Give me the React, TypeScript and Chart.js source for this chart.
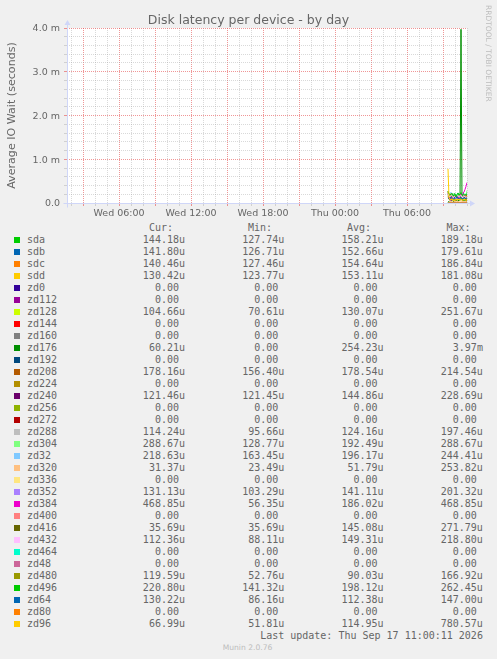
import React, { useEffect, useRef } from "react";
import { Chart, registerables } from "chart.js";

Chart.register(...registerables);

// ---- Data (values in microseconds) ----
const sampleTimes = [
  "09:25", "09:30", "09:35", "09:40", "09:45", "09:50", "09:55", "10:00", "10:05", "10:10",
  "10:15", "10:20", "10:25", "10:30", "10:35", "10:40", "10:45", "10:50", "10:55", "11:00",
];

const sda = [165, 152, 171, 189.18, 160, 147, 155, 168, 139, 150, 176, 162, 127.74, 158, 181, 149, 166, 153, 171, 144.18];
const sdb = [158, 145, 163, 179.61, 150, 139, 148, 161, 134, 146, 170, 155, 126.71, 152, 172, 143, 159, 147, 164, 141.8];
const sdc = [160, 148, 167, 186.84, 152, 141, 150, 163, 136, 147, 172, 158, 127.46, 153, 176, 145, 162, 149, 166, 140.46];
const sdd = [162, 150, 165, 181.08, 149, 140, 152, 160, 137, 145, 170, 157, 123.77, 151, 174, 146, 160, 148, 163, 130.42];
const zd0 = [0, 0, 0, 0, 0, 0, 0, 0, 0, 0, 0, 0, 0, 0, 0, 0, 0, 0, 0, 0];
const zd112 = [0, 0, 0, 0, 0, 0, 0, 0, 0, 0, 0, 0, 0, 0, 0, 0, 0, 0, 0, 0];
const zd128 = [251.67, 140, 98, 122, 155, 110, 70.61, 135, 162, 118, 101, 144, 127, 90, 138, 171, 115, 123, 120, 104.66];
const zd144 = [0, 0, 0, 0, 0, 0, 0, 0, 0, 0, 0, 0, 0, 0, 0, 0, 0, 0, 0, 0];
const zd160 = [0, 0, 0, 0, 0, 0, 0, 0, 0, 0, 0, 0, 0, 0, 0, 0, 0, 0, 0, 0];
const zd176 = [0, 45, 62, 38, 71, 55, 0, 48, 66, 52, 40, 73, 58, 3970, 61, 44, 57, 69, 50, 60.21];
const zd192 = [0, 0, 0, 0, 0, 0, 0, 0, 0, 0, 0, 0, 0, 0, 0, 0, 0, 0, 0, 0];
const zd208 = [185, 170, 192, 214.54, 175, 163, 180, 188, 156.4, 172, 199, 181, 160, 177, 205, 168, 183, 171, 166, 178.16];
const zd224 = [0, 0, 0, 0, 0, 0, 0, 0, 0, 0, 0, 0, 0, 0, 0, 0, 0, 0, 0, 0];
const zd240 = [228.69, 150, 135, 142, 160, 128, 139, 147, 131, 155, 138, 144, 126, 149, 133, 141, 152, 130, 121.45, 121.46];
const zd256 = [0, 0, 0, 0, 0, 0, 0, 0, 0, 0, 0, 0, 0, 0, 0, 0, 0, 0, 0, 0];
const zd272 = [0, 0, 0, 0, 0, 0, 0, 0, 0, 0, 0, 0, 0, 0, 0, 0, 0, 0, 0, 0];
const zd288 = [197.46, 130, 110, 125, 118, 140, 95.66, 122, 133, 108, 126, 119, 137, 104, 128, 115, 121, 131, 112, 114.24];
const zd304 = [180, 165, 210, 195, 128.77, 175, 220, 190, 168, 205, 182, 160, 215, 188, 172, 198, 176, 211, 185, 288.67];
const zd32 = [205, 188, 221, 244.41, 190, 175, 199, 212, 163.45, 184, 230, 196, 170, 193, 226, 181, 203, 187, 179, 218.63];
const zd320 = [253.82, 80, 35, 42, 28, 65, 38, 23.49, 47, 33, 40, 29, 52, 36, 44, 26, 39, 31, 34, 31.37];
const zd336 = [0, 0, 0, 0, 0, 0, 0, 0, 0, 0, 0, 0, 0, 0, 0, 0, 0, 0, 0, 0];
const zd352 = [201.32, 150, 125, 138, 160, 118, 132, 145, 103.29, 140, 155, 128, 136, 149, 121, 143, 152, 126, 134, 131.13];
const zd384 = [120, 95, 140, 56.35, 110, 150, 130, 88, 160, 125, 105, 145, 170, 210, 190, 230, 250, 310, 380, 468.85];
const zd400 = [0, 0, 0, 0, 0, 0, 0, 0, 0, 0, 0, 0, 0, 0, 0, 0, 0, 0, 0, 0];
const zd416 = [271.79, 180, 150, 165, 130, 142, 175, 120, 155, 138, 160, 128, 148, 170, 118, 140, 152, 110, 90, 35.69];
const zd432 = [218.8, 160, 140, 175, 150, 130, 165, 145, 88.11, 155, 170, 135, 148, 180, 125, 158, 162, 140, 128, 112.36];
const zd464 = [0, 0, 0, 0, 0, 0, 0, 0, 0, 0, 0, 0, 0, 0, 0, 0, 0, 0, 0, 0];
const zd48 = [0, 0, 0, 0, 0, 0, 0, 0, 0, 0, 0, 0, 0, 0, 0, 0, 0, 0, 0, 0];
const zd480 = [166.92, 95, 70, 88, 105, 62, 80, 92, 52.76, 85, 98, 74, 90, 110, 66, 84, 93, 78, 72, 119.59];
const zd496 = [262.45, 210, 185, 200, 225, 170, 195, 215, 141.32, 190, 230, 180, 205, 240, 175, 198, 212, 188, 183, 220.8];
const zd64 = [120, 105, 98, 135, 110, 86.16, 115, 125, 100, 147.0, 108, 95, 118, 130, 92, 112, 104, 122, 99, 130.22];
const zd80 = [0, 0, 0, 0, 0, 0, 0, 0, 0, 0, 0, 0, 0, 0, 0, 0, 0, 0, 0, 0];
const zd96 = [780.57, 120, 85, 70, 95, 62, 78, 51.81, 88, 74, 66, 92, 58, 81, 70, 63, 85, 72, 60, 66.99];

const devices = [
  "sda", "sdb", "sdc", "sdd", "zd0", "zd112", "zd128", "zd144", "zd160", "zd176", "zd192",
  "zd208", "zd224", "zd240", "zd256", "zd272", "zd288", "zd304", "zd32", "zd320", "zd336",
  "zd352", "zd384", "zd400", "zd416", "zd432", "zd464", "zd48", "zd480", "zd496", "zd64",
  "zd80", "zd96",
];
const seriesValues = [
  sda, sdb, sdc, sdd, zd0, zd112, zd128, zd144, zd160, zd176, zd192,
  zd208, zd224, zd240, zd256, zd272, zd288, zd304, zd32, zd320, zd336,
  zd352, zd384, zd400, zd416, zd432, zd464, zd48, zd480, zd496, zd64,
  zd80, zd96,
];

const curText = ["144.18u", "141.80u", "140.46u", "130.42u", "0.00", "0.00", "104.66u", "0.00", "0.00", "60.21u", "0.00", "178.16u", "0.00", "121.46u", "0.00", "0.00", "114.24u", "288.67u", "218.63u", "31.37u", "0.00", "131.13u", "468.85u", "0.00", "35.69u", "112.36u", "0.00", "0.00", "119.59u", "220.80u", "130.22u", "0.00", "66.99u"];
const minText = ["127.74u", "126.71u", "127.46u", "123.77u", "0.00", "0.00", "70.61u", "0.00", "0.00", "0.00", "0.00", "156.40u", "0.00", "121.45u", "0.00", "0.00", "95.66u", "128.77u", "163.45u", "23.49u", "0.00", "103.29u", "56.35u", "0.00", "35.69u", "88.11u", "0.00", "0.00", "52.76u", "141.32u", "86.16u", "0.00", "51.81u"];
const avgText = ["158.21u", "152.66u", "154.64u", "153.11u", "0.00", "0.00", "130.07u", "0.00", "0.00", "254.23u", "0.00", "178.54u", "0.00", "144.86u", "0.00", "0.00", "124.16u", "192.49u", "196.17u", "51.79u", "0.00", "141.11u", "186.02u", "0.00", "145.08u", "149.31u", "0.00", "0.00", "90.03u", "198.12u", "112.38u", "0.00", "114.95u"];
const maxText = ["189.18u", "179.61u", "186.84u", "181.08u", "0.00", "0.00", "251.67u", "0.00", "0.00", "3.97m", "0.00", "214.54u", "0.00", "228.69u", "0.00", "0.00", "197.46u", "288.67u", "244.41u", "253.82u", "0.00", "201.32u", "468.85u", "0.00", "271.79u", "218.80u", "0.00", "0.00", "166.92u", "262.45u", "147.00u", "0.00", "780.57u"];

// x axis: hours since Wed 00:00
const xTickHours = [6, 12, 18, 24, 30];
const xTickLabels = ["Wed 06:00", "Wed 12:00", "Wed 18:00", "Thu 00:00", "Thu 06:00"];
const yTickLabels = ["0.0", "1.0 m", "2.0 m", "3.0 m", "4.0 m"];
const chartTitle = "Disk latency per device - by day";

// ---- Styles ----
const palette = [
  "#00CC00", "#0066B3", "#FF8000", "#FFCC00", "#330099", "#990099", "#CCFF00", "#FF0000",
  "#808080", "#008F00", "#00487D", "#B35A00", "#B38F00", "#6B006B", "#8FB300", "#B30000",
  "#BEBEBE", "#80FF80", "#80C9FF", "#FFC080", "#FFE680", "#AA80FF", "#EE00CC", "#FF8080",
  "#666600", "#FFBFFF", "#00FFCC", "#CC6699", "#999900", "#00CC00", "#0066B3", "#FF8000",
  "#FFCC00",
];

const X_END = 35; // Thu 11:00
const X_START = X_END - 2000 / 60;
const MGRID = "rgba(230,80,80,0.6)";
const GRID = "rgba(160,160,160,0.4)";
const AXIS = "#CFD6F8";
const FONT = "#666666";

function timeToHours(t: string): number {
  const [h, m] = t.split(":").map(Number);
  return 24 + h + m / 60;
}

const canvasExtras = {
  id: "rrdExtras",
  beforeDraw(chart: any) {
    const { ctx, chartArea } = chart;
    ctx.save();
    ctx.fillStyle = "#FFFFFF";
    ctx.fillRect(chartArea.left, chartArea.top, chartArea.right - chartArea.left, chartArea.bottom - chartArea.top);
    ctx.restore();
  },
  afterDraw(chart: any) {
    const { ctx, chartArea } = chart;
    const l = Math.round(chartArea.left) + 0.5;
    const b = Math.round(chartArea.bottom) + 0.5;
    const t = chartArea.top;
    const r = chartArea.right;
    ctx.save();
    ctx.strokeStyle = AXIS;
    ctx.lineWidth = 1;
    ctx.beginPath();
    ctx.moveTo(l, b + 4);
    ctx.lineTo(l, t - 4);
    ctx.moveTo(l - 4, b);
    ctx.lineTo(r + 4, b);
    ctx.stroke();
    ctx.fillStyle = AXIS;
    ctx.beginPath();
    ctx.moveTo(l - 3, t - 3);
    ctx.lineTo(l + 3, t - 3);
    ctx.lineTo(l, t - 8);
    ctx.closePath();
    ctx.fill();
    ctx.beginPath();
    ctx.moveTo(r + 3, b - 3);
    ctx.lineTo(r + 3, b + 3);
    ctx.lineTo(r + 8, b);
    ctx.closePath();
    ctx.fill();
    // title
    ctx.font = "12.5px 'DejaVu Sans'";
    ctx.fillStyle = FONT;
    ctx.textAlign = "center";
    ctx.textBaseline = "alphabetic";
    ctx.fillText(chartTitle, 248.5, 24);
    // watermark
    ctx.translate(487.5, 5);
    ctx.rotate(Math.PI / 2);
    ctx.font = "7.5px 'DejaVu Sans'";
    ctx.fillStyle = "#BDBDBD";
    ctx.textAlign = "left";
    ctx.textBaseline = "middle";
    ctx.fillText("RRDTOOL / TOBI OETIKER", 0, 0);
    ctx.restore();
  },
};

const rowTop = (i: number) => 234 + 12 * i;
const colRights = [185, 284.3, 383.6, 482.9];
const headerLefts = [149, 248, 347, 446.5];
const headers = ["Cur:", "Min:", "Avg:", "Max:"];
const pad = (s: string) => (/[a-z]$/i.test(s) ? s : s + " ");

export default function App() {
  const ref = useRef<HTMLCanvasElement>(null);

  useEffect(() => {
    const canvas = ref.current;
    if (!canvas) return;
    const xs = sampleTimes.map(timeToHours);
    const datasets = devices.map((name, i) => ({
      label: name,
      data: seriesValues[i].map((v, k) => ({ x: xs[k], y: v / 1000 })),
      borderColor: palette[i],
      backgroundColor: palette[i],
      borderWidth: 1,
      pointRadius: 0,
      tension: 0,
      fill: false,
      order: -i,
    }));

    const chart = new Chart(canvas, {
      type: "line",
      data: { datasets },
      plugins: [canvasExtras],
      options: {
        animation: false,
        responsive: false,
        events: [],
        layout: { padding: { left: 0, right: 30, top: 28, bottom: 0 } },
        plugins: {
          legend: { display: false },
          tooltip: { enabled: false },
          title: { display: false },
        },
        scales: {
          x: {
            type: "linear",
            min: X_START,
            max: X_END,
            afterBuildTicks: (s: any) => {
              const ticks = [];
              for (let h = Math.ceil(X_START); h <= X_END; h++) ticks.push({ value: h });
              s.ticks = ticks;
            },
            afterFit: (s: any) => {
              s.height = 17;
            },
            ticks: {
              autoSkip: false,
              maxRotation: 0,
              minRotation: 0,
              padding: 2,
              color: FONT,
              font: { family: "DejaVu Sans", size: 9.5 },
              callback: (v: any) => {
                const k = xTickHours.indexOf(Number(v));
                return k >= 0 ? xTickLabels[k] : "";
              },
            },
            grid: {
              color: (c: any) => (c.tick && Math.round(c.tick.value) % 3 === 0 ? MGRID : GRID),
              tickColor: (c: any) => (c.tick && Math.round(c.tick.value) % 3 === 0 ? MGRID : GRID),
              tickLength: 3,
              lineWidth: 1,
            },
            border: { display: false, dash: [1, 1] },
          },
          y: {
            type: "linear",
            min: 0,
            max: 4,
            afterBuildTicks: (s: any) => {
              const ticks = [];
              for (let i = 0; i <= 20; i++) ticks.push({ value: i / 5 });
              s.ticks = ticks;
            },
            afterFit: (s: any) => {
              s.width = 67;
            },
            ticks: {
              autoSkip: false,
              padding: 4,
              labelOffset: 1,
              color: FONT,
              font: { family: "DejaVu Sans", size: 9.5 },
              callback: (v: any) => {
                const i = Math.round(Number(v) * 5);
                return i % 5 === 0 ? yTickLabels[i / 5] : "";
              },
            },
            title: {
              display: true,
              text: "Average IO Wait (seconds)",
              color: FONT,
              font: { family: "DejaVu Sans", size: 11.1 },
              padding: { top: 5, bottom: 0 },
            },
            grid: {
              color: (c: any) => (c.tick && Math.round(c.tick.value * 5) % 5 === 0 ? MGRID : GRID),
              tickColor: (c: any) => (c.tick && Math.round(c.tick.value * 5) % 5 === 0 ? MGRID : GRID),
              tickLength: 3,
              lineWidth: 1,
            },
            border: { display: false, dash: [1, 1] },
          },
        },
      },
    } as any);
    return () => chart.destroy();
  }, []);

  const mono: React.CSSProperties = {
    position: "absolute",
    fontFamily: "'DejaVu Sans Mono', monospace",
    fontSize: "10px",
    lineHeight: "12px",
    whiteSpace: "pre",
    color: FONT,
  };

  return (
    <div
      style={{
        position: "absolute",
        left: 0,
        top: 0,
        width: 497,
        height: 659,
        background: "#F0F0F0",
        overflow: "hidden",
      }}
    >
      <canvas ref={ref} width={497} height={220} style={{ display: "block", width: 497, height: 220 }} />
      {headers.map((h, j) => (
        <div key={h} style={{ ...mono, left: headerLefts[j], top: 222 }}>
          {h}
        </div>
      ))}
      {devices.map((name, i) => (
        <React.Fragment key={name}>
          <div
            style={{
              position: "absolute",
              left: 14,
              top: rowTop(i) + 3,
              width: 6,
              height: 6,
              background: palette[i],
            }}
          />
          <div style={{ ...mono, left: 27, top: rowTop(i) }}>{name}</div>
          {[curText, minText, avgText, maxText].map((col, j) => (
            <div key={j} style={{ ...mono, right: 497 - colRights[j], top: rowTop(i) }}>
              {pad(col[i])}
            </div>
          ))}
        </React.Fragment>
      ))}
      <div style={{ ...mono, right: 497 - 482.9, top: 630 }}>Last update: Thu Sep 17 11:00:11 2026</div>
      <div
        style={{
          position: "absolute",
          left: 222.7,
          top: 643,
          fontFamily: "'DejaVu Sans', sans-serif",
          fontSize: "7.6px",
          lineHeight: "10px",
          color: "#BDBDBD",
          whiteSpace: "pre",
        }}
      >
        Munin 2.0.76
      </div>
    </div>
  );
}
